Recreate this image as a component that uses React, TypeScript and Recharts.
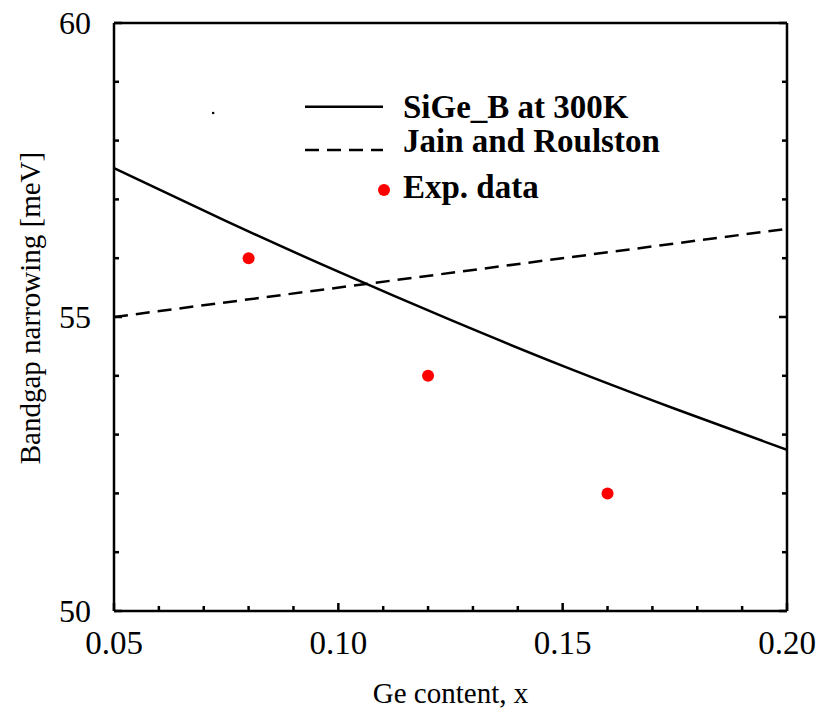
import React from 'react';
import { ComposedChart, Line, Scatter, XAxis, YAxis, Legend } from 'recharts';

// SiGe_B model curve
const modelX = [0.05, 0.075, 0.1, 0.125, 0.15, 0.175, 0.2];
const modelY = [57.53, 56.63, 55.77, 54.95, 54.17, 53.44, 52.74];

// Jain and Roulston
const jainX = [0.05, 0.2];
const jainY = [55.0, 56.5];

// measured points
const expX = [0.08, 0.12, 0.16];
const expY = [56, 54, 52];

// stray speck in the original figure
const speckX = [0.0721];
const speckY = [58.47];

const xTicks = [0.05, 0.06, 0.07, 0.08, 0.09, 0.1, 0.11, 0.12, 0.13, 0.14, 0.15, 0.16, 0.17, 0.18, 0.19, 0.2];
const xMajor = [0.05, 0.1, 0.15, 0.2];
const xLabels = ['0.05', '0.10', '0.15', '0.20'];

const yTicks = [50, 51, 52, 53, 54, 55, 56, 57, 58, 59, 60];
const yMajor = [50, 55, 60];
const yLabels = ['50', '55', '60'];

const FONT = '"Liberation Serif", "Times New Roman", serif';

const toRows = (xs: number[], ys: number[]) => xs.map((x, i) => ({ x, y: ys[i] }));
const modelData = toRows(modelX, modelY);
const jainData = toRows(jainX, jainY);
const expData = toRows(expX, expY);
const speckData = toRows(speckX, speckY);

const majorIndex = (list: number[], v: number) => list.findIndex((m) => Math.abs(m - v) < 1e-6);

const BottomTick = (props: any) => {
  const { x, y, payload } = props;
  const idx = majorIndex(xMajor, payload.value);
  const len = idx >= 0 ? 8 : 5;
  return (
    <g>
      <line x1={x} x2={x} y1={y} y2={y - len} stroke="#000" strokeWidth={2.5} />
      {idx >= 0 && (
        <text x={x} y={y + 43} textAnchor="middle" fontSize={33} fontFamily={FONT} fill="#000">
          {xLabels[idx]}
        </text>
      )}
    </g>
  );
};

const TopTick = (props: any) => {
  const { x, y, payload } = props;
  const len = majorIndex(xMajor, payload.value) >= 0 ? 8 : 5;
  return <line x1={x} x2={x} y1={y} y2={y + len} stroke="#000" strokeWidth={2.5} />;
};

const LeftTick = (props: any) => {
  const { x, y, payload } = props;
  const idx = majorIndex(yMajor, payload.value);
  const len = idx >= 0 ? 8 : 5;
  return (
    <g>
      <line x1={x} x2={x + len} y1={y} y2={y} stroke="#000" strokeWidth={2.5} />
      {idx >= 0 && (
        <text x={x - 23} y={y} dy="0.35em" textAnchor="end" fontSize={32} fontFamily={FONT} fill="#000">
          {yLabels[idx]}
        </text>
      )}
    </g>
  );
};

const RightTick = (props: any) => {
  const { x, y, payload } = props;
  const len = majorIndex(yMajor, payload.value) >= 0 ? 8 : 5;
  return <line x1={x} x2={x - len} y1={y} y2={y} stroke="#000" strokeWidth={2.5} />;
};

const XTitle = (props: any) => {
  const vb = props.viewBox;
  return (
    <text x={vb.x + vb.width / 2} y={vb.y + 92} textAnchor="middle" fontSize={29} fontFamily={FONT} fill="#000">
      Ge content, x
    </text>
  );
};

const YTitle = (props: any) => {
  const vb = props.viewBox;
  const cx = vb.x + 30;
  const cy = vb.y + vb.height / 2 - 9;
  return (
    <text
      x={cx}
      y={cy}
      dy="0.35em"
      transform={`rotate(-90, ${cx}, ${cy})`}
      textAnchor="middle"
      fontSize={29}
      fontFamily={FONT}
      fill="#000"
    >
      Bandgap narrowing [meV]
    </text>
  );
};

// legend drawn by hand, offset of its svg is (300, 80)
const renderLegend = () => {
  const txt = { fontSize: 33, fontFamily: FONT, fontWeight: 'bold' as const, fill: '#000' };
  return (
    <svg width={420} height={140} style={{ display: 'block' }}>
      <line x1={5} x2={83} y1={26.7} y2={26.7} stroke="#000" strokeWidth={2.5} />
      <text x={103} y={38} {...txt}>SiGe_B at 300K</text>
      <line x1={5} x2={83} y1={70} y2={70} stroke="#000" strokeWidth={2.5} strokeDasharray="14 8" />
      <text x={103} y={72} {...txt}>Jain and Roulston</text>
      <circle cx={84} cy={110} r={6} fill="#ff0000" />
      <text x={103} y={118} {...txt}>Exp. data</text>
    </svg>
  );
};

const RedDot = (props: any) => <circle cx={props.cx} cy={props.cy} r={6} fill="#ff0000" />;
const Speck = (props: any) => <circle cx={props.cx} cy={props.cy} r={1.3} fill="#000" />;

export default function App() {
  return (
    <div style={{ position: 'absolute', left: 0, top: 0, width: 821, height: 713, background: '#fff' }}>
      <ComposedChart width={821} height={713} margin={{ top: 22, right: 33, bottom: 0, left: 0 }}>
        <XAxis
          xAxisId="b"
          type="number"
          dataKey="x"
          domain={[0.05, 0.2]}
          ticks={xTicks}
          interval={0}
          allowDataOverflow
          height={102}
          tickSize={0}
          tickMargin={0}
          tickLine={false}
          axisLine={{ stroke: '#000', strokeWidth: 2.5 }}
          tick={<BottomTick />}
          label={<XTitle />}
        />
        <XAxis
          xAxisId="t"
          orientation="top"
          type="number"
          domain={[0.05, 0.2]}
          ticks={xTicks}
          interval={0}
          allowDataOverflow
          height={1}
          tickSize={0}
          tickMargin={0}
          tickLine={false}
          axisLine={{ stroke: '#000', strokeWidth: 2.5 }}
          tick={<TopTick />}
        />
        <YAxis
          yAxisId="l"
          type="number"
          dataKey="y"
          domain={[50, 60]}
          ticks={yTicks}
          interval={0}
          allowDataOverflow
          width={114}
          tickSize={0}
          tickMargin={0}
          tickLine={false}
          axisLine={{ stroke: '#000', strokeWidth: 2.5 }}
          tick={<LeftTick />}
          label={<YTitle />}
        />
        <YAxis
          yAxisId="r"
          orientation="right"
          type="number"
          domain={[50, 60]}
          ticks={yTicks}
          interval={0}
          allowDataOverflow
          width={1}
          tickSize={0}
          tickMargin={0}
          tickLine={false}
          axisLine={{ stroke: '#000', strokeWidth: 2.5 }}
          tick={<RightTick />}
        />
        <Legend
          layout="horizontal"
          verticalAlign="middle"
          align="center"
          content={renderLegend}
          wrapperStyle={{ position: 'absolute', left: 300, top: 80, width: 420, height: 140 }}
        />
        <Line
          xAxisId="b"
          yAxisId="l"
          data={modelData}
          dataKey="y"
          type="monotone"
          stroke="#000"
          strokeWidth={2.5}
          dot={false}
          activeDot={false}
          isAnimationActive={false}
        />
        <Line
          xAxisId="b"
          yAxisId="l"
          data={jainData}
          dataKey="y"
          type="linear"
          stroke="#000"
          strokeWidth={2.5}
          strokeDasharray="14 8"
          dot={false}
          activeDot={false}
          isAnimationActive={false}
        />
        <Scatter xAxisId="b" yAxisId="l" data={expData} dataKey="y" shape={<RedDot />} isAnimationActive={false} />
        <Scatter xAxisId="b" yAxisId="l" data={speckData} dataKey="y" shape={<Speck />} isAnimationActive={false} />
      </ComposedChart>
    </div>
  );
}
